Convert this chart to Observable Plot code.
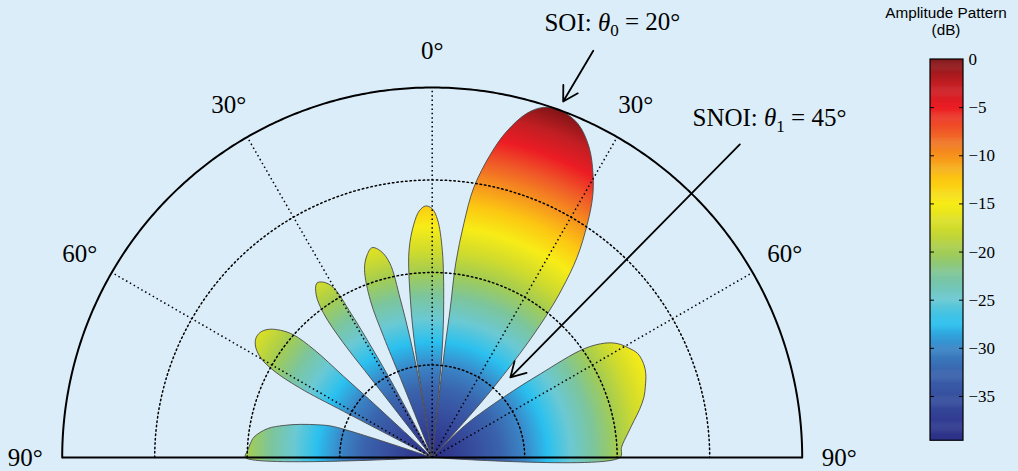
<!DOCTYPE html>
<html><head><meta charset="utf-8">
<script src="https://cdn.jsdelivr.net/npm/d3@7"></script>
<script src="https://cdn.jsdelivr.net/npm/@observablehq/plot@0.6"></script>
<style>
html,body{margin:0;padding:0;background:#daedf8;}
#wrap{position:relative;width:1018px;height:471px;overflow:hidden;background:#daedf8;}
#main{position:absolute;left:0;top:0;}
#cbar{position:absolute;left:877px;top:0;}
#cbtitle{position:absolute;left:877px;top:4px;width:138px;text-align:center;font-family:"Liberation Sans",Arial,sans-serif;font-size:15.3px;line-height:17px;color:#000;}
</style></head><body>
<div id="wrap"><div id="main"></div><div id="cbar"></div><div id="cbtitle">Amplitude Pattern<br>(dB)</div></div>
<script>
// ---------------- data ----------------
// beam pattern sweep, angle in degrees from broadside (negative = left), gain in dB (-40 = floor / null)
const patternAngle = [
  -90, -88, -85.5, -83.5, -80.1, -77.8, -75.9, -74, -72.6, -72.4,
  -63, -62.5, -62.3, -61.3, -60, -58, -56, -54, -52, -50, -48.5, -47.6, -47.5, -47.3, -47,
  -38.2, -37.7, -37.8, -37.8, -37, -35.5, -33.5, -31.8, -30.2, -29.4, -28.8, -28.2, -27.8,
  -22.3, -21.8, -21.9, -21.5, -19.8, -18, -16, -14, -12.3, -11.4, -10.6, -9.7, -9.4,
  -9.0, -8.9, -8.9, -7.9, -6.4, -4.5, -3, -1.5, 0, 1.3, 2.8, 4.2, 5.3, 5.6, 5.7,
  6.0, 6.3, 6.6, 6.9, 6.9, 7.7, 8.75, 10.9, 12.9, 15.4, 17.6, 20, 23.5, 26.8, 29.6, 31.6, 33.6, 35.9, 37.6, 38.6, 39.8, 41.2, 42, 42.5,
  43.8, 45.5, 49.9, 52.3, 54.4, 56.5, 58.4, 60.8, 63.2, 66, 68.6, 71.5, 74.1, 77, 79.6, 83, 86.9, 90
];
const patternDb = [
  -19.8, -20.0, -20.3, -20.6, -21.9, -23.6, -25.3, -27.2, -28.8, -40,
  -40, -29.2, -23.8, -20.5, -18.7, -17.5, -17.0, -17.0, -17.5, -18.6, -20.0, -22.7, -27.0, -31.4, -40,
  -40, -32.4, -28.1, -24.3, -20.5, -18.4, -17.4, -17.7, -18.7, -22.2, -26.5, -31.4, -40,
  -40, -30.8, -25.9, -21.8, -18.4, -17.1, -16.4, -17.0, -18.5, -22.5, -26.5, -31.4, -40,
  -40, -33.5, -28.3, -22.9, -17.5, -14.7, -13.3, -12.8, -13.1, -14.3, -17.6, -23.0, -28.4, -34.6, -40,
  -40, -33.5, -28.1, -23.7, -18.9, -14.5, -10.5, -6.6, -3.8, -1.4, -0.3, 0, -0.6, -2.4, -4.8, -6.9, -9.7, -13.3, -17.0, -19.7, -23.8, -29.9, -35.1, -40,
  -40, -35.1, -29.8, -25.2, -19.8, -17.6, -16.5, -15.7, -15.1, -15.0, -15.2, -15.7, -16.2, -17.0, -17.8, -18.7, -19.5, -19.7
];
const dbFloor = -40;
const dbTop = 0;
const gridAnglesDeg = [-60, -30, 0, 30, 60];
const gridRingsDb = [-30, -20, -10];
const tickAnglesDeg = [-90, -60, -30, 0, 30, 60, 90];
const tickLabels = ["90°", "60°", "30°", "0°", "30°", "60°", "90°"];
// colour map of the amplitude scale
const colorStopsDb = [-40, -37.5, -35, -32.5, -30, -27.5, -25, -22.5, -20, -17.5, -15, -12.5, -10, -7.5, -5, -2.5, 0];
const colorStopsHex = ["#2b2e83", "#313d92", "#37509f", "#3a64ad", "#3a86c7", "#2ac0ef", "#6bc9d3", "#7cc59c", "#a3cc52", "#d2dc2b", "#f7ec17", "#fcc712", "#f6921e", "#f05a28", "#ec1c24", "#c01e23", "#7f1416"];
const colorbarTicks = [0, -5, -10, -15, -20, -25, -30, -35];
const colorbarMin = -39.6;
// annotations: text, and arrows (angle in degrees, radius in dB above the floor)
const annotationText = ["SOI: θ0 = 20°", "SNOI: θ1 = 45°"];
const annotationTextAngle = [22.5, 44.85];
const annotationTextRadius = [50.9, 51.7];
const arrowStartAngle = [21.6, 44.5];
const arrowStartRadius = [47.3, 47.45];
const arrowEndAngle = [20.2, 44.3];
const arrowEndRadius = [41.0, 12.1];

// ---------------- layout ----------------
const W = 1018, H = 471;
const cx = 431.7, cy = 457, Rpx = 370;
const rMax = dbTop - dbFloor;            // 40
const k = Rpx / rMax;                    // px per unit
const rad = (a) => a * Math.PI / 180;
const px = (a, r) => r * Math.sin(rad(a));
const py = (a, r) => r * Math.cos(rad(a));

// lobes: split sweep at nulls
const lobes = [];
let cur = [];
let lobeId = 0;
patternAngle.forEach((a, i) => {
  const r = Math.max(0, patternDb[i] - dbFloor);
  if (r <= 0) {
    cur.push({x: 0, y: 0, lobe: lobeId});
    if (cur.length > 2) lobes.push(...cur);
    lobeId++;
    cur = [{x: 0, y: 0, lobe: lobeId}];
  } else {
    if (cur.length === 0) cur.push({x: 0, y: 0, lobe: lobeId});
    cur.push({x: px(a, r), y: py(a, r), lobe: lobeId});
  }
});
if (cur.length > 1) { cur.push({x: 0, y: 0, lobe: lobeId}); if (cur.length > 2) lobes.push(...cur); }

const arcAngles = d3.range(-90, 90.001, 0.5);
const rings = gridRingsDb.flatMap(db => arcAngles.map(a => ({ring: db, x: px(a, db - dbFloor), y: py(a, db - dbFloor)})));
const outer = arcAngles.map(a => ({x: px(a, rMax), y: py(a, rMax)}));

const colorScale = Plot.scale({color: {type: "linear", domain: colorStopsDb, range: colorStopsHex, interpolate: "rgb"}});

const dotted = {stroke: "black", strokeWidth: 1.5, strokeDasharray: "1.5,2.9"};

const main = Plot.plot({
  width: W, height: H,
  x: {domain: [-cx / k, (W - cx) / k], range: [0, W], axis: null},
  y: {domain: [-(H - cy) / k, cy / k], range: [H, 0], axis: null},
  style: {background: "transparent", fontFamily: "'Liberation Serif', 'Times New Roman', serif", overflow: "visible"},
  marks: [
    Plot.line(lobes, {x: "x", y: "y", z: "lobe", fill: "url(#ampGrad)", stroke: "#4a4a4a", strokeWidth: 0.9, curve: "catmull-rom"}),
    Plot.line(rings, {x: "x", y: "y", z: "ring", ...dotted}),
    Plot.link(gridAnglesDeg, {x1: () => 0, y1: () => 0, x2: a => px(a, rMax), y2: a => py(a, rMax), ...dotted}),
    Plot.line(outer, {x: "x", y: "y", stroke: "black", strokeWidth: 2}),
    Plot.link([rMax], {x1: r => -r, y1: () => 0, x2: r => r, y2: () => 0, stroke: "black", strokeWidth: 2}),
    Plot.text(tickAnglesDeg, {x: a => px(a, 44), y: a => py(a, 44), text: (a, i) => tickLabels[i], fontSize: 25, fill: "black"}),
    Plot.arrow(arrowStartAngle, {
      x1: (a, i) => px(a, arrowStartRadius[i]), y1: (a, i) => py(a, arrowStartRadius[i]),
      x2: (a, i) => px(arrowEndAngle[i], arrowEndRadius[i]), y2: (a, i) => py(arrowEndAngle[i], arrowEndRadius[i]),
      stroke: "black", strokeWidth: 1.8, headLength: 14, headAngle: 60
    }),
    Plot.text(annotationText, {x: (t, i) => px(annotationTextAngle[i], annotationTextRadius[i]), y: (t, i) => py(annotationTextAngle[i], annotationTextRadius[i]), text: t => t, fontSize: 25, fill: "black"})
  ]
});

// radial gradient (colour by radius = dB), positioned through the plot's own scales
const sx = main.scale("x"), sy = main.scale("y");
const gcx = sx.apply(0), gcy = sy.apply(0), gr = sx.apply(rMax) - sx.apply(0);
const svgSel = d3.select(main.tagName.toLowerCase() === "svg" ? main : main.querySelector("svg"));
const grad = svgSel.insert("defs", ":first-child").append("radialGradient")
  .attr("id", "ampGrad").attr("gradientUnits", "userSpaceOnUse")
  .attr("cx", gcx).attr("cy", gcy).attr("r", gr).attr("fx", gcx).attr("fy", gcy);
d3.range(dbFloor, dbTop + 0.001, 0.5).forEach(v => {
  grad.append("stop").attr("offset", (v - dbFloor) / rMax).attr("stop-color", colorScale.apply(v));
});

// theta italic with subscript
svgSel.selectAll("text").each(function () {
  const t = this.textContent;
  const m = t.match(/^(.*?)θ(\d)( = .*)$/);
  if (!m) return;
  const s = d3.select(this);
  s.selectAll("*").remove();
  s.text(null);
  s.append("tspan").text(m[1]);
  s.append("tspan").attr("font-style", "italic").text("θ");
  s.append("tspan").attr("font-size", "0.68em").attr("dy", "0.32em").text(m[2]);
  s.append("tspan").attr("dy", "-0.22em").text(m[3].replace(/^ /, "\u00a0"));
});
document.getElementById("main").appendChild(main);

// ---------------- colour bar ----------------
const cbLeft = 877;
const bins = d3.range(colorbarMin, dbTop, 0.1);
const fmt = d => d === 0 ? "0" : "\u2212" + Math.abs(d);
const cb = Plot.plot({
  width: 138, height: H,
  x: {domain: [0, 1], range: [930 - cbLeft, 963 - cbLeft], axis: null},
  y: {domain: [dbFloor, dbTop], range: [444.1, 59], axis: null},
  color: {type: "linear", domain: colorStopsDb, range: colorStopsHex, interpolate: "rgb"},
  style: {background: "transparent", fontFamily: "'Liberation Serif', 'Times New Roman', serif", overflow: "visible"},
  marks: [
    Plot.rect(bins, {x1: () => 0, x2: () => 1, y1: d => d, y2: d => Math.min(dbTop, d + 0.15), fill: d => d + 0.05}),
    Plot.rect([colorbarMin], {x1: () => 0, x2: () => 1, y1: d => d, y2: () => dbTop, fill: "none", stroke: "black", strokeWidth: 1.2}),
    Plot.ruleY(colorbarTicks.slice(1), {x1: () => 0, x2: () => 0.12, stroke: "black", strokeWidth: 1}),
    Plot.ruleY(colorbarTicks.slice(1), {x1: () => 0.88, x2: () => 1, stroke: "black", strokeWidth: 1}),
    Plot.text(colorbarTicks, {x: () => 1, y: d => d, text: fmt, textAnchor: "start", dx: 5, fontSize: 17, fill: "black"})
  ]
});
document.getElementById("cbar").appendChild(cb);
</script>
</body></html>
